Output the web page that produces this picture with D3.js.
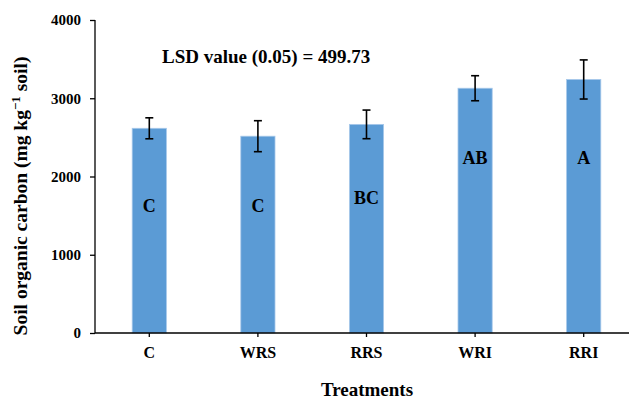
<!DOCTYPE html>
<html>
<head>
<meta charset="utf-8">
<script src="https://cdn.jsdelivr.net/npm/d3@7"></script>
<style>
  body { margin: 0; background: #fff; }
  text { font-family: "Liberation Serif", "Times New Roman", serif; font-weight: bold; fill: #000; }
</style>
</head>
<body>
<div id="wrapper"></div>
<script>
const treatments = ["C", "WRS", "RRS", "WRI", "RRI"]
const socMeans = [2616, 2515, 2666, 3128, 3240]
const socErrors = [134, 198, 183, 160, 250]
const groupLetters = ["C", "C", "BC", "AB", "A"]
const letterLevels = [1546, 1546, 1649, 2160, 2160]
const yTicks = [0, 1000, 2000, 3000, 4000]

let dimensions = {
    width: 629,
    height: 400,
    margin: { top: 20, right: -9, bottom: 67, left: 95 }
}
dimensions.boundedWidth = dimensions.width - dimensions.margin.left - dimensions.margin.right
dimensions.boundedHeight = dimensions.height - dimensions.margin.top - dimensions.margin.bottom

const svg = d3.select("#wrapper")
    .append("svg")
    .attr("width", dimensions.width)
    .attr("height", dimensions.height)

const bounds = svg.append("g")
    .attr("transform", `translate(${dimensions.margin.left},${dimensions.margin.top})`)

const xScale = d3.scaleBand()
    .domain(treatments)
    .range([0, dimensions.boundedWidth])
    .paddingInner(0.685)
    .paddingOuter(0.3425)

const yScale = d3.scaleLinear()
    .domain([0, 4000])
    .range([dimensions.boundedHeight, 0])

// bars
bounds.selectAll("rect.bar")
    .data(treatments)
    .join("rect")
    .attr("class", "bar")
    .attr("x", d => xScale(d))
    .attr("width", xScale.bandwidth())
    .attr("y", (d, i) => yScale(socMeans[i]))
    .attr("height", (d, i) => dimensions.boundedHeight - yScale(socMeans[i]))
    .attr("fill", "#5b9bd5")
    .attr("stroke", "#a7c8ea")
    .attr("stroke-width", 0.8)

// error bars
const errs = bounds.append("g")
    .attr("stroke", "#000")
    .attr("stroke-width", 1.6)
treatments.forEach((t, i) => {
    const cx = xScale(t) + xScale.bandwidth() / 2
    const hi = yScale(socMeans[i] + socErrors[i])
    const lo = yScale(socMeans[i] - socErrors[i])
    errs.append("line").attr("x1", cx).attr("x2", cx).attr("y1", hi).attr("y2", lo)
    errs.append("line").attr("x1", cx - 4).attr("x2", cx + 4).attr("y1", hi).attr("y2", hi)
    errs.append("line").attr("x1", cx - 4).attr("x2", cx + 4).attr("y1", lo).attr("y2", lo)
})

// significance letters
bounds.selectAll("text.letter")
    .data(groupLetters)
    .join("text")
    .attr("class", "letter")
    .attr("x", (d, i) => xScale(treatments[i]) + xScale.bandwidth() / 2)
    .attr("y", (d, i) => yScale(letterLevels[i]))
    .attr("text-anchor", "middle")
    .style("font-size", "18px")
    .text(d => d)

// axes
const yAxis = bounds.append("g")
    .call(d3.axisLeft(yScale).tickValues(yTicks).tickSize(5).tickPadding(9).tickFormat(d3.format("d")))
yAxis.select(".domain").attr("d", `M0,0V${dimensions.boundedHeight}`)

const xAxis = bounds.append("g")
    .attr("transform", `translate(0,${dimensions.boundedHeight})`)
    .call(d3.axisBottom(xScale).tickSize(4).tickPadding(10))
xAxis.select(".domain").attr("d", `M0,0H${dimensions.boundedWidth}`)

svg.selectAll(".domain").attr("stroke", "#000").attr("stroke-width", 1.3)
svg.selectAll(".tick line").attr("stroke", "#000").attr("stroke-width", 1.3)
yAxis.selectAll(".tick text").style("font-size", "15px").style("font-family", "Liberation Serif").style("font-weight", "bold")
xAxis.selectAll(".tick text").style("font-size", "16px").style("font-family", "Liberation Serif").style("font-weight", "bold")

// LSD note
svg.append("text")
    .attr("x", 162)
    .attr("y", 63)
    .style("font-size", "19px")
    .text("LSD value (0.05) = 499.73")

// axis titles
svg.append("text")
    .attr("x", 367)
    .attr("y", 396)
    .attr("text-anchor", "middle")
    .style("font-size", "19px")
    .text("Treatments")

const yTitle = svg.append("text")
    .attr("transform", "translate(27,196) rotate(-90)")
    .attr("text-anchor", "middle")
    .style("font-size", "19.5px")
yTitle.append("tspan").text("Soil organic carbon (mg kg")
yTitle.append("tspan").attr("dy", -7).style("font-size", "13px").text("−1")
yTitle.append("tspan").attr("dy", 7).text(" soil)")
</script>
</body>
</html>
